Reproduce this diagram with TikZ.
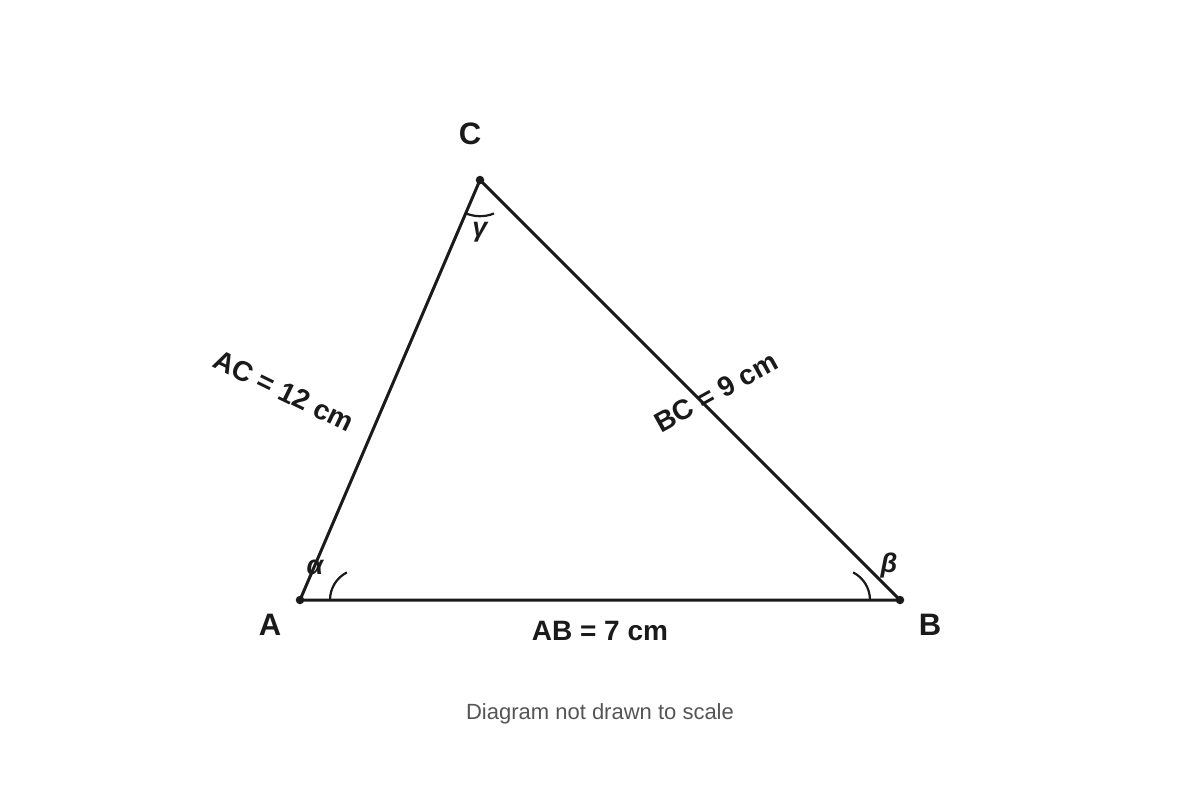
\documentclass[tikz,border=0pt]{standalone}
\usepackage{fontspec}
\setmainfont{Liberation Sans}
\begin{document}
\begin{tikzpicture}[x=1pt,y=-1pt,
  edge/.style={draw=ink,line width=3pt,line cap=round,line join=round},
  anglearc/.style={draw=ink,line width=2.2pt},
  vdot/.style={circle,fill=ink,inner sep=0pt,minimum size=8.5pt},
  vlabel/.style={text=ink,font=\fontsize{31}{33}\selectfont\bfseries},
  slabel/.style={text=ink,font=\fontsize{28}{30}\selectfont\bfseries},
  glabel/.style={text=ink,font=\fontsize{27}{29}\selectfont\bfseries\itshape},
  note/.style={text=gray55,font=\fontsize{22}{24}\selectfont}]
\definecolor{ink}{HTML}{1A1A1A}
\definecolor{gray55}{HTML}{555555}
\useasboundingbox[fill=white] (0,0) rectangle (1200,800);
% vertices
\node[vdot] (A) at (300,600) {};
\node[vdot] (B) at (900,600) {};
\node[vdot] (C) at (480,180) {};
% sides
\draw[edge] (A.center) -- (B.center) -- (C.center) -- cycle;
% angle arcs
\coordinate (aA) at (330,600);
\coordinate (aB) at (870,600);
\coordinate (aC) at (465,213);
\draw[anglearc] (aA) arc[start angle=180,end angle=243,radius=31];
\draw[anglearc] (aB) arc[start angle=0,end angle=-63,radius=31];
\draw[anglearc] (aC) arc[start angle=114,end angle=68,radius=37];
% vertex labels
\node[vlabel] (lC) at (470,134) {C};
\node[vlabel] (lA) at (270,625) {A};
\node[vlabel] (lB) at (930,625) {B};
% side labels
\node[slabel] (lAB) at (600,631) {AB = 7 cm};
\node[slabel,rotate=-26] (lAC) at (284,391) {AC = 12 cm};
\node[slabel,rotate=29] (lBC) at (716,392) {BC = 9 cm};
% angle labels
\node[glabel] (al) at (315,567) {α};
\node[glabel] (be) at (889,566) {β};
\node[glabel] (ga) at (480,232) {γ};
% caption
\node[note] (cap) at (600,714) {Diagram not drawn to scale};
\end{tikzpicture}
\end{document}
